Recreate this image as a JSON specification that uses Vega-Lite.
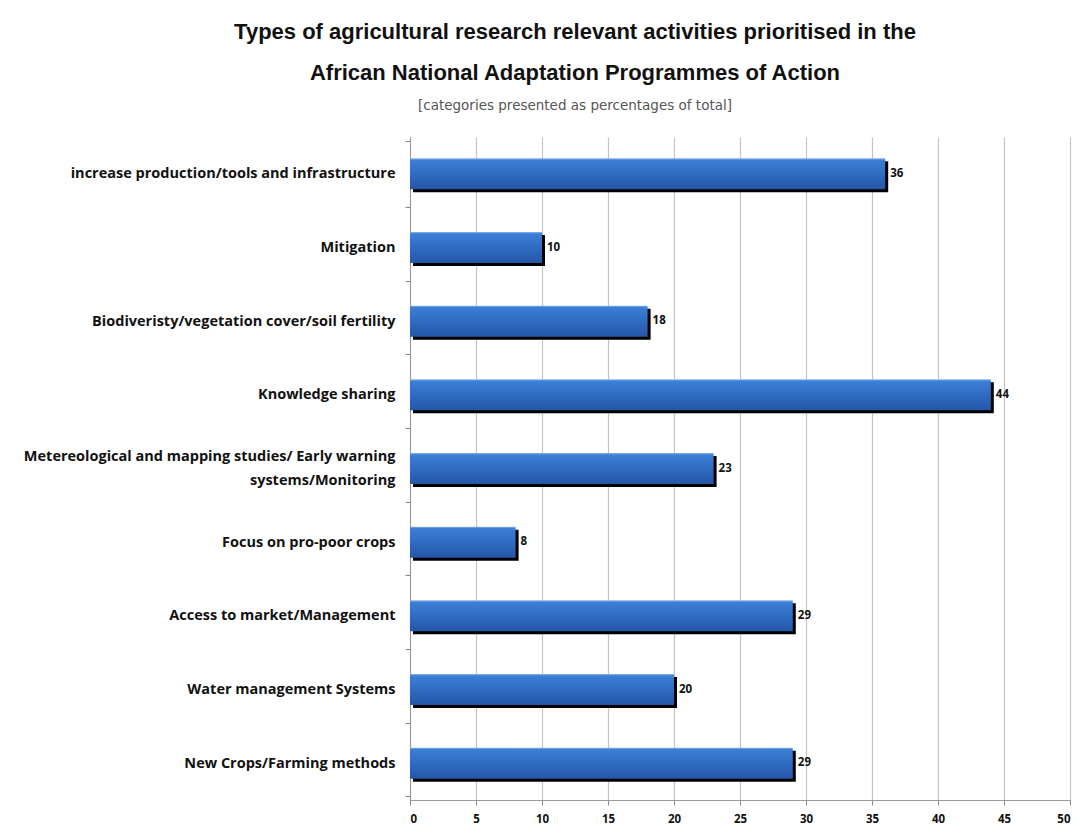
{
  "$schema": "https://vega.github.io/schema/vega-lite/v6.json",
  "autosize": {"type": "none"},
  "padding": {"left": 410, "top": 137, "right": 10, "bottom": 36},
  "width": 660,
  "height": 663,
  "background": "white",
  "title": {
    "text": ["Types of agricultural research relevant activities prioritised in the", "African National Adaptation Programmes of Action"],
    "subtitle": "[categories presented as percentages of total]",
    "anchor": "middle",
    "dx": -165,
    "offset": 16,
    "font": "Liberation Sans",
    "fontSize": 22,
    "fontWeight": "bold",
    "color": "#111111",
    "lineHeight": 41,
    "subtitleFont": "DejaVu Sans",
    "subtitleFontSize": 13.5,
    "subtitleColor": "#555555",
    "subtitlePadding": 14
  },
  "data": {
    "values": [
      {"activity": "increase production/tools and infrastructure", "pct": 36},
      {"activity": "Mitigation", "pct": 10},
      {"activity": "Biodiveristy/vegetation cover/soil fertility", "pct": 18},
      {"activity": "Knowledge sharing", "pct": 44},
      {"activity": "Metereological and mapping studies/ Early warning systems/Monitoring", "pct": 23},
      {"activity": "Focus on pro-poor crops", "pct": 8},
      {"activity": "Access to market/Management", "pct": 29},
      {"activity": "Water management Systems", "pct": 20},
      {"activity": "New Crops/Farming methods", "pct": 29}
    ]
  },
  "encoding": {
    "y": {
      "field": "activity",
      "type": "nominal",
      "sort": null,
      "title": null,
      "axis": {
        "labelFont": "Open Sans",
        "labelFontSize": 14.5,
        "labelFontWeight": "bold",
        "labelColor": "#111111",
        "labelPadding": 10,
        "labelLimit": 420,
        "labelLineHeight": 24,
        "labelOffset": {
          "condition": {"test": "datum.value == 'Metereological and mapping studies/ Early warning systems/Monitoring'", "value": -12},
          "value": 0
        },
        "labelExpr": "datum.value == 'Metereological and mapping studies/ Early warning systems/Monitoring' ? ['Metereological and mapping studies/ Early warning', 'systems/Monitoring'] : datum.value",
        "tickBand": "extent",
        "tickSize": 5,
        "tickColor": "#888888",
        "domainColor": "#999999",
        "grid": false
      }
    },
    "x": {
      "field": "pct",
      "type": "quantitative",
      "title": null,
      "scale": {"domain": [0, 50]},
      "axis": {
        "values": [0, 5, 10, 15, 20, 25, 30, 35, 40, 45, 50],
        "labelFont": "Open Sans",
        "labelFontSize": 11.5,
        "labelFontWeight": "bold",
        "labelColor": "#111111",
        "labelPadding": 8,
        "tickSize": 5,
        "tickColor": "#888888",
        "domainColor": "#999999",
        "grid": true,
        "gridColor": "#c4c4c4",
        "gridWidth": 1.2
      }
    }
  },
  "layer": [
    {
      "mark": {"type": "bar", "size": 31, "color": "#000000", "xOffset": 3, "yOffset": 3}
    },
    {
      "mark": {
        "type": "bar",
        "size": 31,
        "color": {
          "gradient": "linear",
          "x1": 0, "y1": 0, "x2": 0, "y2": 1,
          "stops": [
            {"offset": 0, "color": "#8fb4ea"},
            {"offset": 0.06, "color": "#3c7fd6"},
            {"offset": 0.5, "color": "#2f6cc2"},
            {"offset": 1, "color": "#2556a6"}
          ]
        }
      }
    },
    {
      "mark": {
        "type": "text",
        "align": "left",
        "baseline": "middle",
        "dx": 5,
        "font": "Open Sans",
        "fontSize": 11.5,
        "fontWeight": "bold",
        "color": "#111111"
      },
      "encoding": {"text": {"field": "pct", "type": "quantitative"}}
    }
  ],
  "config": {"view": {"stroke": null}}
}
